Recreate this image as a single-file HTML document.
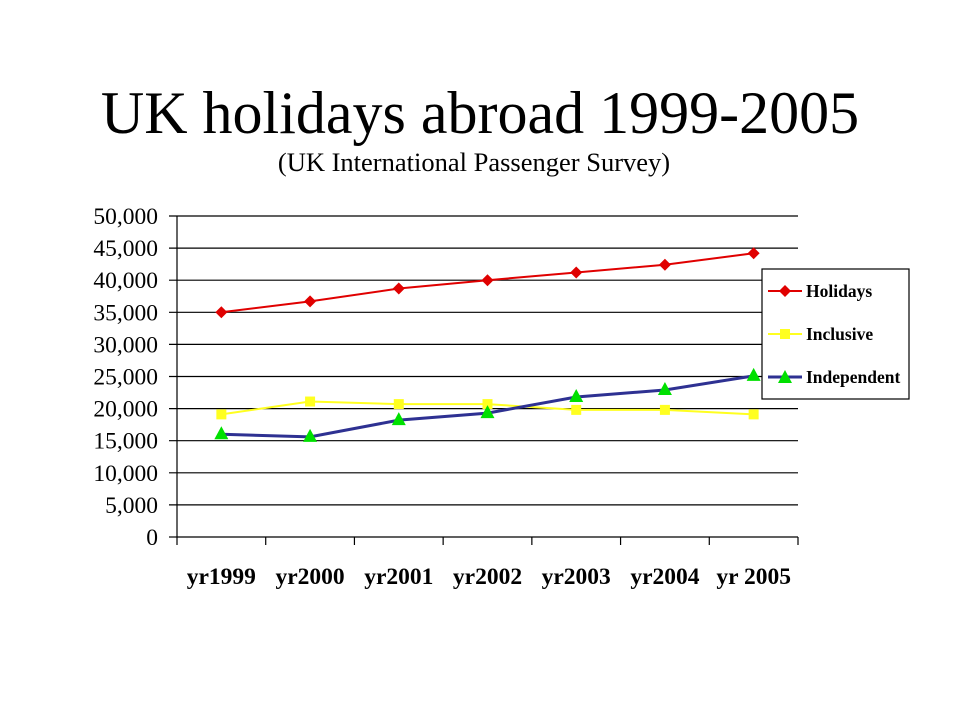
<!DOCTYPE html>
<html><head><meta charset="utf-8"><style>
html,body{margin:0;padding:0;background:#fff;}
svg{display:block;font-family:"Liberation Serif",serif;}
</style></head><body>
<svg width="960" height="720" viewBox="0 0 960 720">
<rect width="960" height="720" fill="#fff"/>
<text x="480" y="133" text-anchor="middle" font-size="60">UK holidays abroad 1999-2005</text>
<text x="474" y="171" text-anchor="middle" font-size="26.5">(UK International Passenger Survey)</text>
<g id="grid"></g><g id="axes"></g><g id="series"></g>
<g>
<rect x="762" y="269" width="147" height="130" fill="#fff" stroke="#000" stroke-width="1.2"/>
<g>
<line x1="768" y1="291" x2="802" y2="291" stroke="#e00000" stroke-width="2"/>
<polygon points="785,285 791,291 785,297 779,291" fill="#e00000"/>
<text x="806" y="297" font-size="17.5" font-weight="bold">Holidays</text></g>
<g>
<line x1="768" y1="334" x2="802" y2="334" stroke="#ffff20" stroke-width="2"/>
<rect x="780" y="329" width="10" height="10" fill="#ffff20"/>
<text x="806" y="340" font-size="17.5" font-weight="bold">Inclusive</text></g>
<g>
<line x1="768" y1="377" x2="802" y2="377" stroke="#2e3192" stroke-width="3"/>
<polygon points="785,370 792,383 778,383" fill="#00e000"/>
<text x="806" y="383" font-size="17.5" font-weight="bold">Independent</text></g>
</g>
</svg>
<script>
const categories=["yr1999","yr2000","yr2001","yr2002","yr2003","yr2004","yr 2005"];
const holidays=[35000,36700,38700,40000,41200,42400,44200];
const inclusive=[19100,21100,20700,20700,19800,19800,19100];
const independent=[16000,15600,18200,19300,21800,22900,25100];
const yTicks=[0,5000,10000,15000,20000,25000,30000,35000,40000,45000,50000];
const yTickLabels=["0","5,000","10,000","15,000","20,000","25,000","30,000","35,000","40,000","45,000","50,000"];
const NS="http://www.w3.org/2000/svg";
const X0=177,X1=798,Y0=537,Y1=216,YMAX=50000;
const band=(X1-X0)/categories.length;
function xPos(i){return X0+band*(i+0.5);}
function yPos(v){return Y0-(v/YMAX)*(Y0-Y1);}
function mk(tag,attrs,parent){const e=document.createElementNS(NS,tag);for(const k in attrs)e.setAttribute(k,attrs[k]);parent.appendChild(e);return e;}
const grid=document.getElementById('grid'),axes=document.getElementById('axes'),ser=document.getElementById('series');
yTicks.forEach((t,i)=>{
  const y=yPos(t);
  if(t>0){const l=mk('line',{x1:169,y1:y,x2:X1,y2:y,stroke:'#000','stroke-width':1.2},grid);
  
  }
  else{const l=mk('line',{x1:169,y1:y,x2:X0,y2:y,stroke:'#000','stroke-width':1.2},axes);
  
  }
  const tx=mk('text',{x:158,y:y+8,'text-anchor':'end','font-size':23.5},axes);
  tx.textContent=yTickLabels[i];
  
  
});
const ya=mk('line',{x1:X0,y1:Y1,x2:X0,y2:Y0,stroke:'#000','stroke-width':1.2},axes);


const xa=mk('line',{x1:X0,y1:Y0,x2:X1,y2:Y0,stroke:'#000','stroke-width':1.2},axes);


for(let i=0;i<=categories.length;i++){
  const x=X0+band*i;
  const l=mk('line',{x1:x,y1:Y0,x2:x,y2:Y0+8,stroke:'#000','stroke-width':1.2},axes);
  
  
}
categories.forEach((c,i)=>{
  const t=mk('text',{x:xPos(i),y:584,'text-anchor':'middle','font-size':23.5,'font-weight':'bold'},axes);
  t.textContent=c;
  
  
});
function drawSeries(vals,color,w,shape,name){
  const pts=vals.map((v,i)=>xPos(i)+','+yPos(v)).join(' ');
  const pl=mk('polyline',{points:pts,fill:'none',stroke:color,'stroke-width':w},ser);
  
  
  vals.forEach((v,i)=>{
    const x=xPos(i),y=yPos(v);let m;
    if(shape==='diamond')m=mk('polygon',{points:`${x},${y-6} ${x+6},${y} ${x},${y+6} ${x-6},${y}`,fill:'#e00000'},ser);
    else if(shape==='square')m=mk('rect',{x:x-5,y:y-5,width:10,height:10,fill:'#ffff20'},ser);
    else m=mk('polygon',{points:`${x},${y-8} ${x+7},${y+5} ${x-7},${y+5}`,fill:'#00e000'},ser);
    
    
  });
}
drawSeries(inclusive,'#ffff20',2,'square','inclusive');
drawSeries(independent,'#2e3192',3,'triangle','independent');
drawSeries(holidays,'#e00000',2,'diamond','holidays');
</script>
</body></html>
